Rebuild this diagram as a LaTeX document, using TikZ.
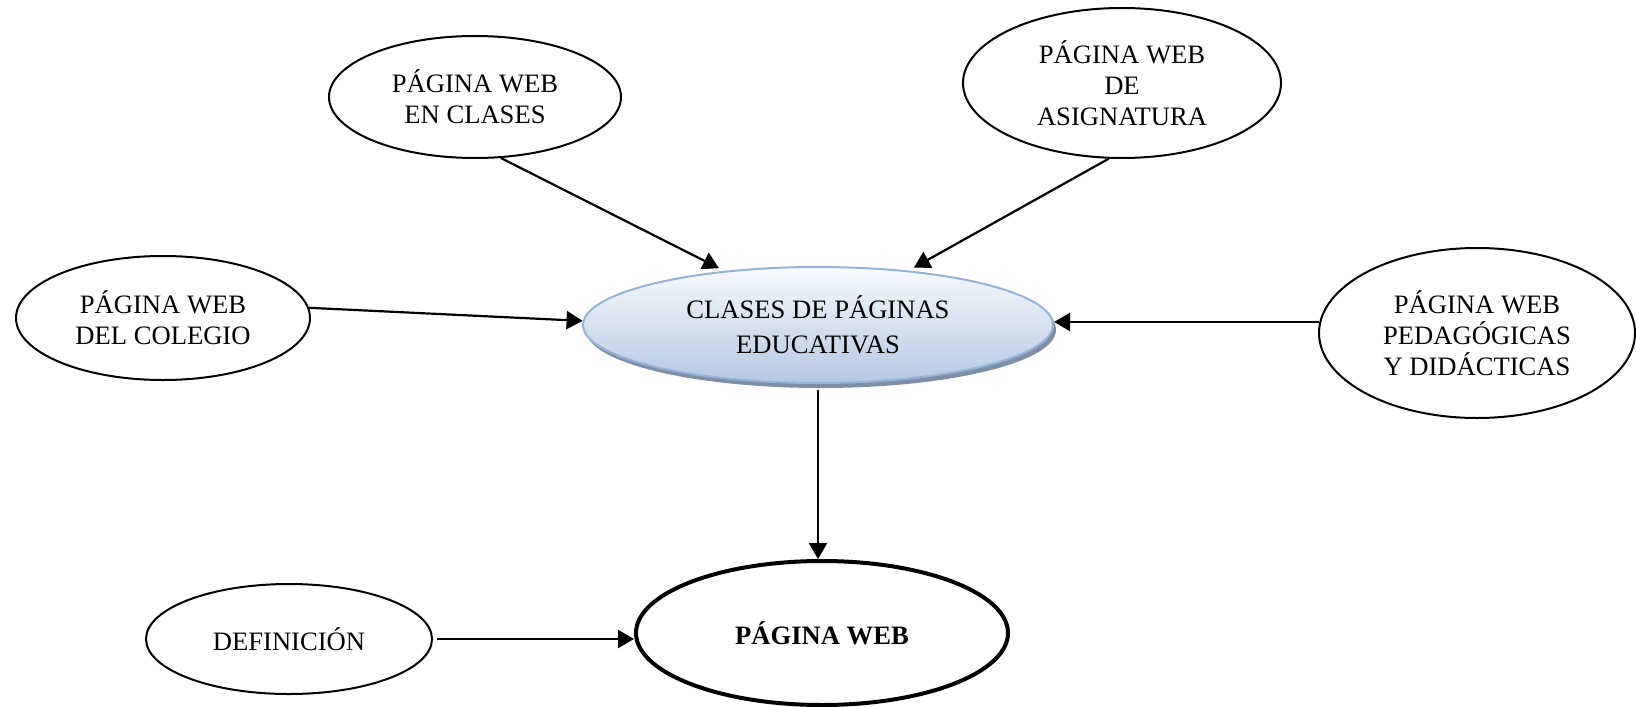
\documentclass[tikz,border=0pt]{standalone}
\usepackage{fontspec}
\setmainfont{Liberation Serif}
\usetikzlibrary{shapes.geometric,arrows.meta,shadows}
\definecolor{cborder}{HTML}{95B3D7}
\definecolor{ctop}{HTML}{F7FAFD}
\definecolor{cbot}{HTML}{B4C8E2}
\definecolor{cshadow}{HTML}{7E8EA6}
\tikzset{
  bub/.style={ellipse, draw=black, line width=1pt, inner sep=0pt, align=center,
    font=\fontsize{13.3pt}{15.5pt}\selectfont},
  main/.style={bub, line width=1pt, draw=cborder, top color=ctop, bottom color=cbot,
    font=\fontsize{13.3pt}{17.5pt}\selectfont,
    drop shadow={shadow xshift=1.5pt, shadow yshift=-2.5pt, fill=cshadow, opacity=1}},
  target/.style={bub, line width=2pt, font=\fontsize{13.3pt}{15.5pt}\selectfont\bfseries},
  arr/.style={line width=1.1pt, -{Triangle[length=8pt,width=9pt]}},
}
\begin{document}
\begin{tikzpicture}[x=0.5pt,y=-0.5pt]
\useasboundingbox (0,0) rectangle (1636,706);
\node[bub, minimum width=146pt, minimum height=61pt] (ec) at (475,97) {PÁGINA WEB\\EN CLASES};
\node[bub, minimum width=159pt, minimum height=75pt] (as) at (1122,83) {PÁGINA WEB\\DE\\ASIGNATURA};
\node[bub, minimum width=147pt, minimum height=62pt] (co) at (163,318) {PÁGINA WEB\\DEL COLEGIO};
\node[main, minimum width=235pt, minimum height=58pt] (c) at (818,325) {CLASES DE PÁGINAS\\EDUCATIVAS};
\node[bub, minimum width=158pt, minimum height=85pt] (pe) at (1477,333) {PÁGINA WEB\\PEDAGÓGICAS\\Y DIDÁCTICAS};
\node[bub, minimum width=143pt, minimum height=55pt] (de) at (289,639) {DEFINICIÓN};
\node[target, minimum width=186pt, minimum height=72pt] (pw) at (822,633) {PÁGINA WEB};

\draw[arr, shorten >=3pt] (ec.-67) -- (c.150);
\draw[arr, shorten >=3pt] (as.-100) -- (c.31);
\draw[arr] (co.4) -- (c.179);
\draw[arr] (pe.176) -- (pe.176 -| c.east);
\draw[arr, shorten <=3pt] (c.south) -- (c.south |- pw.north);
\draw[arr, shorten <=2pt] (de.east) -- (de.east -| pw.west);
\end{tikzpicture}
\end{document}
